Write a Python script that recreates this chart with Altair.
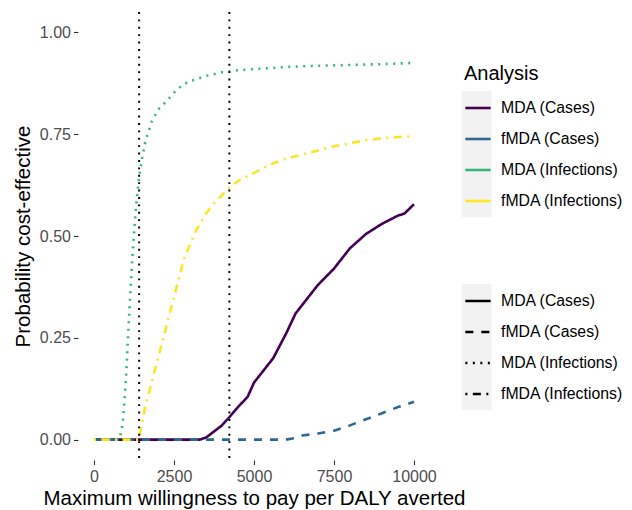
import altair as alt
import pandas as pd

analysis = ["MDA (Cases)", "fMDA (Cases)", "MDA (Infections)", "fMDA (Infections)"]
colors = ["#440154", "#31688E", "#35B779", "#FDE725"]
dashes = [[1, 0], [8, 8], [2, 5.5], [2, 5.5, 8, 5.5]]

mda_cases_x = [0, 3300, 3500, 3700, 4000, 4250, 4500, 4800, 5000, 5300, 5600, 6000, 6300,
               6600, 7000, 7500, 8000, 8500, 9000, 9500, 9700, 10000]
mda_cases_y = [0, 0, 0.005, 0.017, 0.035, 0.057, 0.08, 0.105, 0.14, 0.17, 0.20, 0.26, 0.31,
               0.34, 0.38, 0.42, 0.47, 0.505, 0.53, 0.55, 0.555, 0.578]

fmda_cases_x = [0, 6000, 6200, 6500, 7000, 7500, 8000, 8500, 9000, 9500, 10000]
fmda_cases_y = [0, 0, 0.003, 0.01, 0.015, 0.022, 0.035, 0.05, 0.065, 0.08, 0.093]

mda_inf_x = [0, 800, 900, 1000, 1100, 1200, 1300, 1400, 1500, 1600, 1800, 2000, 2250, 2500,
             2750, 3000, 3500, 4000, 4500, 5000, 5500, 6000, 7000, 8000, 9000, 10000]
mda_inf_y = [0, 0, 0.04, 0.15, 0.31, 0.45, 0.56, 0.64, 0.69, 0.73, 0.78, 0.81, 0.83, 0.852,
             0.87, 0.88, 0.893, 0.902, 0.907, 0.91, 0.912, 0.915, 0.918, 0.92, 0.922, 0.925]

fmda_inf_x = [0, 1400, 1500, 1600, 1800, 2000, 2200, 2500, 2800, 3000, 3200, 3500, 3800, 4000,
              4250, 4500, 5000, 5500, 6000, 6500, 7000, 7500, 8000, 8500, 9000, 9500, 10000]
fmda_inf_y = [0, 0, 0.04, 0.08, 0.14, 0.20, 0.26, 0.35, 0.44, 0.48, 0.515, 0.555, 0.585, 0.60,
              0.62, 0.635, 0.655, 0.675, 0.69, 0.70, 0.71, 0.72, 0.728, 0.735, 0.74, 0.743, 0.745]

thresholds = [1410, 4230]

x_ticks = [0, 2500, 5000, 7500, 10000]
y_ticks = [0, 0.25, 0.5, 0.75, 1.0]

rows = []
for name, xs, ys in [
    (analysis[0], mda_cases_x, mda_cases_y),
    (analysis[1], fmda_cases_x, fmda_cases_y),
    (analysis[2], mda_inf_x, mda_inf_y),
    (analysis[3], fmda_inf_x, fmda_inf_y),
]:
    for x, y in zip(xs, ys):
        rows.append({"wtp": x, "prob": y, "Analysis": name, "Type": name})
df = pd.DataFrame(rows)

FONT = "Liberation Sans"
LW = 2.6
xscale = alt.Scale(domain=[-500, 10500], nice=False, zero=False)
yscale = alt.Scale(domain=[-0.05, 1.05], nice=False, zero=False)

xaxis = alt.Axis(values=x_ticks, format="d", labelPadding=4, labelFlush=False,
                 titleY=44.6, titleBaseline="alphabetic")
yaxis = alt.Axis(values=y_ticks, format=".2f", labelPadding=3, labelFlush=False,
                 titleX=-48.3, titleBaseline="alphabetic")

lines = alt.Chart(df).mark_line(strokeWidth=LW).encode(
    x=alt.X("wtp:Q", scale=xscale, axis=xaxis,
            title="Maximum willingness to pay per DALY averted"),
    y=alt.Y("prob:Q", scale=yscale, axis=yaxis, title="Probability cost-effective"),
    color=alt.Color("Analysis:N", scale=alt.Scale(domain=analysis, range=colors),
                    legend=alt.Legend(title="Analysis", orient="none", legendX=386,
                                      legendY=52, titlePadding=10)),
    strokeDash=alt.StrokeDash("Type:N", sort=analysis, scale=alt.Scale(range=dashes),
                              legend=alt.Legend(title=None, orient="none", legendX=386,
                                                legendY=275, symbolStrokeColor="black")),
    detail="Analysis:N",
)

rules = alt.Chart(pd.DataFrame({"wtp": thresholds})).mark_rule(
    color="black", strokeWidth=2, strokeDash=[1.9, 5.5]
).encode(x=alt.X("wtp:Q", scale=xscale))

bg1 = alt.Chart(pd.DataFrame({"k": [0]})).mark_rect(color="#F2F2F2").encode(
    x=alt.value(383.7), x2=alt.value(413.7), y=alt.value(79), y2=alt.value(205))
bg2 = alt.Chart(pd.DataFrame({"k": [0]})).mark_rect(color="#F2F2F2").encode(
    x=alt.value(383.7), x2=alt.value(413.7), y=alt.value(272), y2=alt.value(398))

chart = alt.layer(bg1, bg2, lines, rules).properties(
    width=352, height=448,
    autosize=alt.AutoSizeParams(type="none"),
    padding={"left": 70, "top": 4, "right": 194, "bottom": 50},
).configure_view(stroke=None).configure_axis(
    grid=False, domain=False,
    labelFont=FONT, labelFontSize=16, labelColor="#4D4D4D",
    tickColor="#333333", tickWidth=1.1, tickSize=4.5,
    titleFont=FONT, titleFontSize=20.5, titleColor="black", titleFontWeight="normal",
).configure_legend(
    titleFont=FONT, titleFontSize=20, titleFontWeight="normal", titleColor="black",
    labelFont=FONT, labelFontSize=15.8, labelColor="black",
    symbolType="stroke", symbolSize=640, symbolStrokeWidth=LW,
    rowPadding=9, labelOffset=9, padding=0,
)

chart.save("out.html", embed_options={"renderer": "svg", "actions": False})
